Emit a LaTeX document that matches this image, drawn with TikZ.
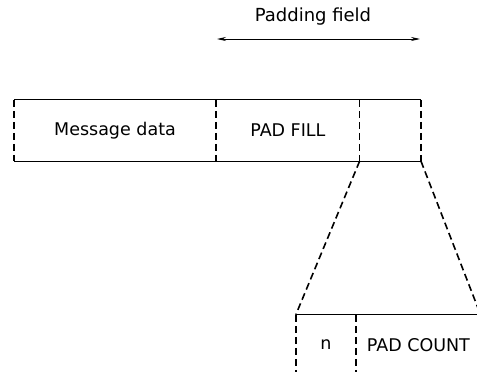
\documentclass[tikz,border=0pt]{standalone}
\usepackage{fontspec}
\newfontfamily\fieldfont{DejaVu Sans}
\usetikzlibrary{arrows.meta, positioning}

\begin{document}
\begin{tikzpicture}[x=1pt, y=-1pt,
  field/.style={rectangle, inner sep=0pt, minimum height=61pt,
                font=\fieldfont\fontsize{17.5}{20}\selectfont},
  sub/.style={rectangle, inner sep=0pt, minimum height=60pt,
              font=\fieldfont\fontsize{17.5}{20}\selectfont},
  edge/.style={line width=0.9pt},
  cut/.style={line width=1.6pt, dash pattern=on 7pt off 4pt},
  span/.style={{Stealth[length=9pt, width=4pt]}-{Stealth[length=9pt, width=4pt]}, line width=0.8pt},
]
  \path[clip] (0,0) rectangle (477,372);

  % message layout
  \node[field, minimum width=202pt] (msg) at (115,130.5) {Message data};
  \node[field, minimum width=143pt, right=0pt of msg] (fill) {PAD FILL};
  \node[field, minimum width=61pt, right=0pt of fill] (pad) {};

  \node[font=\fieldfont\fontsize{18}{20}\selectfont] (title) at (313,17) {Padding field};
  \coordinate (spanL) at (217,39);
  \coordinate (spanR) at (420,39);
  \draw[span] (spanL) -- (spanR);

  \draw[edge] (msg.north west) -- (pad.north east);
  \draw[edge] (msg.south west) -- (pad.south east);
  \draw[cut] (msg.north west) -- (msg.south west);
  \draw[cut] (msg.north east) -- (msg.south east);
  \draw[cut] (fill.north east) -- (fill.south east);
  \draw[cut] (pad.north east) -- (pad.south east);

  % expanded last octet
  \node[sub, minimum width=60pt] (nval) at (326,345) {n};
  \node[sub, minimum width=124pt, right=0pt of nval] (count) {PAD COUNT};

  \draw[cut] (pad.south west) -- (nval.north west);
  \draw[cut] (pad.south east) -- (count.north east);
  \draw[edge] (nval.north west) -- (count.north east);
  \draw[cut] (nval.north west) -- (nval.south west);
  \draw[cut] (nval.north east) -- (nval.south east);
\end{tikzpicture}
\end{document}
